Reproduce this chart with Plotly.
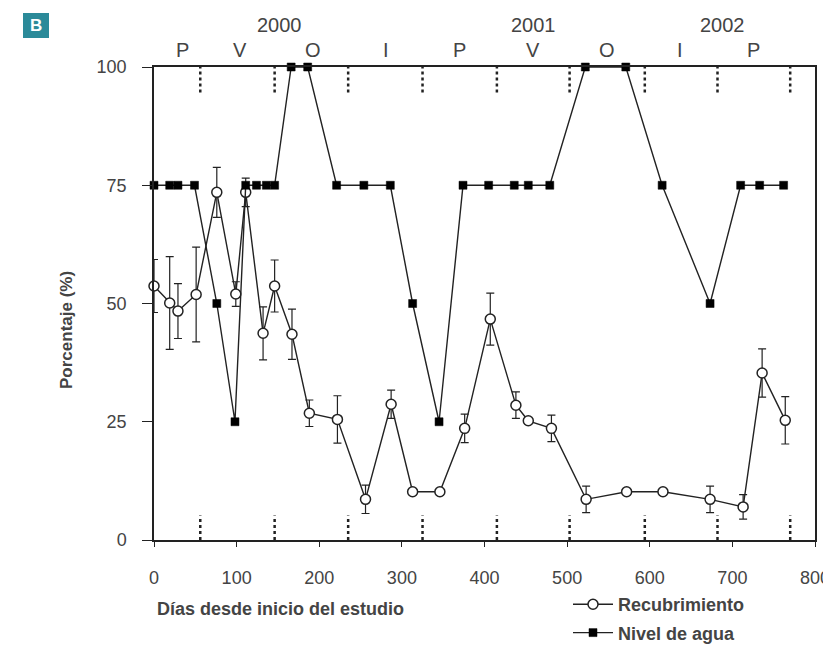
import plotly.graph_objects as go

# ---------------- data ----------------
rec_dias = [0, 19, 29, 51, 76, 99, 111, 132, 146, 167, 188, 222, 256, 287, 313, 346,
            376, 407, 438, 453, 481, 523, 572, 616, 673, 713, 736, 764]
rec_vals = [53.7, 50.1, 48.4, 51.9, 73.5, 52.0, 73.5, 43.7, 53.7, 43.5, 26.8, 25.5, 8.6, 28.7,
            10.2, 10.2, 23.6, 46.7, 28.5, 25.2, 23.6, 8.6, 10.2, 10.2, 8.6, 7.0, 35.3, 25.3]
rec_err = [5.6, 9.8, 5.8, 10.0, 5.3, 2.6, 3.0, 5.6, 5.5, 5.3, 2.8, 5.0, 3.0, 3.0,
           0, 0, 3.0, 5.5, 2.8, 0, 2.8, 2.8, 0, 0, 2.8, 2.6, 5.1, 5.0]

agua_dias = [0, 19, 29, 49, 76, 98, 111, 124, 136, 146, 166, 186, 221, 254, 286, 313, 345,
             374, 405, 436, 453, 479, 522, 571, 615, 673, 710, 733, 762]
agua_vals = [75, 75, 75, 75, 50, 25, 75, 75, 75, 75, 100, 100, 75, 75, 75, 50, 25,
             75, 75, 75, 75, 75, 100, 100, 75, 50, 75, 75, 75]

limites_estacion = [56, 146, 235, 325, 415, 503, 594, 682, 770]
estaciones = ["P", "V", "O", "I", "P", "V", "O", "I", "P"]
estaciones_x = [34, 104, 192, 281, 370, 459, 548, 637, 725]
anios = ["2000", "2001", "2002"]
anios_x = [152, 459, 688]

x_ticks = [0, 100, 200, 300, 400, 500, 600, 700, 800]
y_ticks = [0, 25, 50, 75, 100]

# ---------------- layout helpers (page pixel -> paper) ----------------
OFF = 8  # default body margin of the html page
PAGE_W, PAGE_H = 831, 645
W, H = PAGE_W - OFF, PAGE_H - OFF
PL, PR, PT, PB = 154, 815, 67, 540      # plot area in page pixels
L, T = PL - OFF, PT - OFF
R, B = W - (PR - OFF), H - (PB - OFF)
PW, PH = PR - PL, PB - PT


def px(x):
    return (x - PL) / PW


def py(y):
    return (PB - y) / PH


FONT = "Liberation Sans, Arial, sans-serif"
DARK = "#222222"
GREY = "#444444"

fig = go.Figure()

# season boundary markers (top and bottom dotted segments)
xs, ys = [], []
for d in limites_estacion:
    xs += [d, d, None, d, d, None]
    ys += [94.6, 100, None, 0, 5.2, None]
fig.add_trace(go.Scatter(x=xs, y=ys, mode="lines", showlegend=False, hoverinfo="skip",
                         line=dict(color=DARK, width=2.5, dash="dot")))

fig.add_trace(go.Scatter(
    x=rec_dias, y=rec_vals, name="Recubrimiento", mode="lines+markers",
    legendgroup="a", cliponaxis=False,
    line=dict(color=DARK, width=1.4),
    marker=dict(symbol="circle", size=10, color="white", line=dict(color=DARK, width=1.5)),
    error_y=dict(type="data", array=rec_err, visible=True, color=DARK, thickness=1.2, width=4),
))
fig.add_trace(go.Scatter(
    x=agua_dias, y=agua_vals, name="Nivel de agua", mode="lines+markers",
    legendgroup="b", cliponaxis=False,
    line=dict(color=DARK, width=1.4),
    marker=dict(symbol="square", size=8, color="#000000", line=dict(color="#000000", width=0.5)),
))

annotations = []
for lab, xv in zip(estaciones, estaciones_x):
    annotations.append(dict(x=xv, xref="x", y=py(50), yref="paper", text=lab, showarrow=False,
                            xanchor="center", yanchor="middle",
                            font=dict(family=FONT, size=20, color=GREY)))
for lab, xv in zip(anios, anios_x):
    annotations.append(dict(x=xv, xref="x", y=py(25), yref="paper", text=lab, showarrow=False,
                            xanchor="center", yanchor="middle",
                            font=dict(family=FONT, size=20, color=GREY)))

annotations.append(dict(x=px(155), xref="paper", y=py(609), yref="paper",
                        text="Días desde inicio del estudio", showarrow=False,
                        xanchor="left", yanchor="middle",
                        font=dict(family=FONT, size=18, color=GREY, weight="bold")))
annotations.append(dict(x=px(66), xref="paper", y=py(330), yref="paper",
                        text="Porcentaje (%)", showarrow=False, textangle=-90,
                        xanchor="center", yanchor="middle",
                        font=dict(family=FONT, size=17, color=GREY, weight="bold")))
annotations.append(dict(x=px(36), xref="paper", y=py(25.5), yref="paper",
                        text="B", showarrow=False, xanchor="center", yanchor="middle",
                        font=dict(family=FONT, size=17, color="white", weight="bold")))

shapes = [dict(type="rect", xref="paper", yref="paper",
               x0=px(23), x1=px(49), y0=py(38), y1=py(13),
               fillcolor="#2b8a99", line=dict(width=0), layer="above")]

fig.update_layout(
    width=W, height=H,
    margin=dict(l=L, r=R, t=T, b=B, pad=0, autoexpand=False),
    paper_bgcolor="white", plot_bgcolor="white",
    font=dict(family=FONT, color=GREY),
    showlegend=True,
    legend=dict(x=px(568), y=py(586), xanchor="left", yanchor="top",
                bgcolor="rgba(0,0,0,0)", traceorder="grouped", tracegroupgap=2,
                itemwidth=40,
                font=dict(family=FONT, size=18, color=GREY, weight="bold")),
    annotations=annotations,
    shapes=shapes,
    xaxis=dict(range=[0, 800], tickvals=x_ticks, ticks="outside", ticklen=5, tickwidth=1.2,
               tickcolor=DARK, showline=True, linecolor=DARK, linewidth=1.5, mirror=True,
               showgrid=False, zeroline=False, ticklabelstandoff=16,
               tickfont=dict(family=FONT, size=18, color=GREY)),
    yaxis=dict(range=[0, 100], tickvals=y_ticks, ticks="outside", ticklen=10, tickwidth=1.2,
               tickcolor=DARK, showline=True, linecolor=DARK, linewidth=1.5, mirror=True,
               showgrid=False, zeroline=False, ticklabelstandoff=12,
               tickfont=dict(family=FONT, size=18, color=GREY)),
)

fig.write_html("out.html")
